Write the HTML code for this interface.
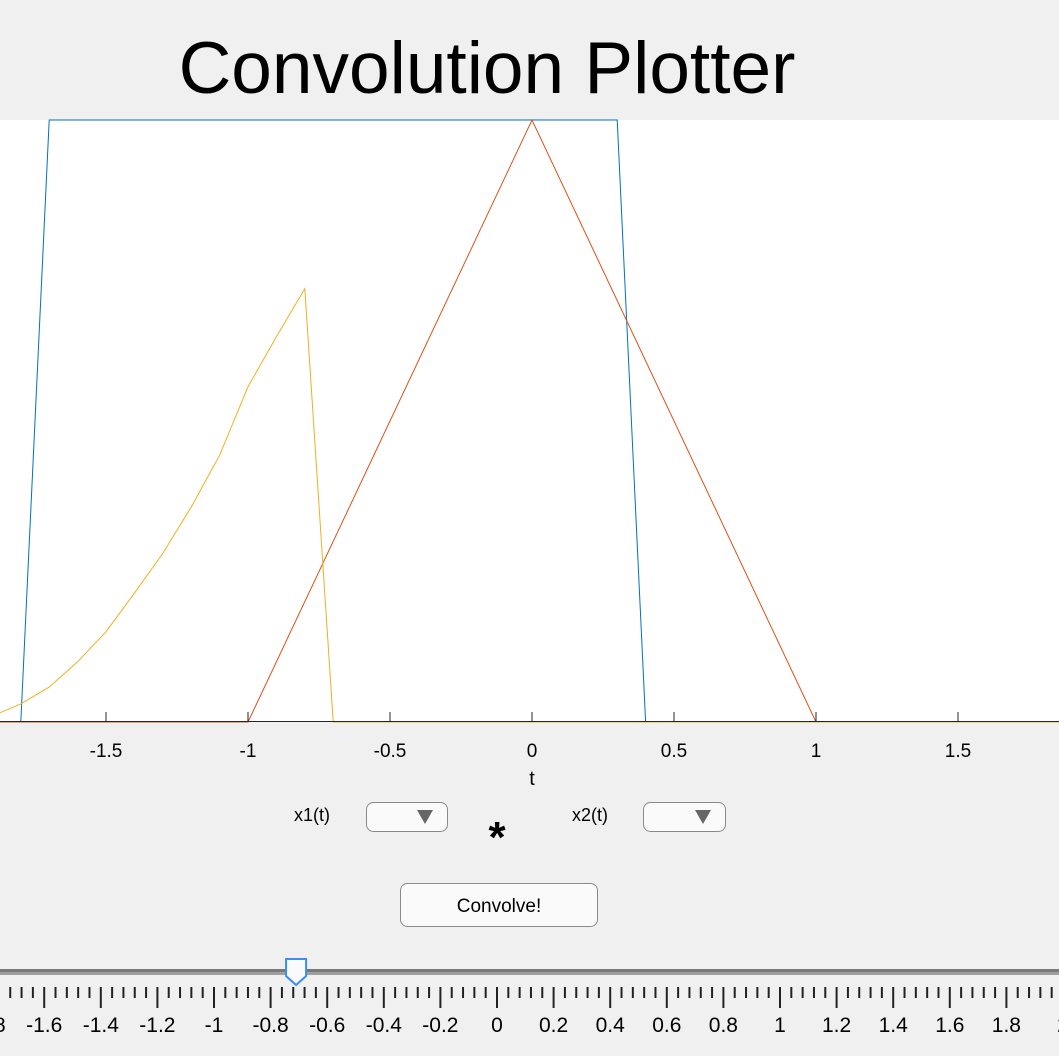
<!DOCTYPE html>
<html><head><meta charset="utf-8"><style>
body{margin:0;width:1059px;height:1056px;background:#f0f0f0;overflow:hidden;font-family:"Liberation Sans",sans-serif}
svg{position:absolute;left:0;top:0}
</style></head><body>
<svg id="s" width="1059" height="1056">
<rect x="0" y="120" width="1059" height="602" fill="#fff"/>
<text x="487" y="93" font-size="73" text-anchor="middle" fill="#000">Convolution Plotter</text>
<g id="plot"></g>
<g id="xticks"></g>
<text x="532" y="785" font-size="20" text-anchor="middle">t</text>
<text x="312" y="821" font-size="18" text-anchor="middle">x1(t)</text>
<g><rect x="366.5" y="802.5" width="81" height="29" rx="7" fill="#fafafa" stroke="#8a8a8a"/><path d="M417 810 L433 810 L425 824 Z" fill="#666"/></g>
<text x="497" y="852" font-size="44" font-weight="bold" text-anchor="middle">*</text>
<text x="590" y="821" font-size="18" text-anchor="middle">x2(t)</text>
<g><rect x="643.5" y="802.5" width="82" height="29" rx="7" fill="#fafafa" stroke="#8a8a8a"/><path d="M695 810 L711 810 L703 824 Z" fill="#666"/></g>
<g><rect x="400.5" y="883.5" width="197" height="43" rx="7" fill="#fafafa" stroke="#8a8a8a"/><text x="499" y="912" font-size="19" text-anchor="middle">Convolve!</text></g>
<g>
<rect x="0" y="969" width="1059" height="3" fill="#7a7a7a"/><rect x="0" y="972" width="1059" height="3" fill="#a0a0a0"/>
<g id="sticks"></g>
<path id="thumb" d="" fill="#fafafa" stroke="#3d8ef0" stroke-width="2"/>
</g>
</svg>
<script>
const tBlue=[-1.9,-1.8,-1.7,0.3,0.4,1.9];
const vBlue=[0,0,1,1,0,0];
const tRed=[-1.9,-1,0,1,1.9];
const vRed=[0,0,1,0,0];
const tYellow=[-1.9,-1.8,-1.7,-1.6,-1.5,-1.4,-1.3,-1.2,-1.1,-1,-0.9,-0.8,-0.7,1.9];
const vYellow=[0.01,0.03,0.058,0.1,0.15,0.214,0.28,0.357,0.443,0.557,0.64,0.72,0,0];
const xTicks=[-1.5,-1,-0.5,0,0.5,1,1.5];
const xTickLabels=["-1.5","-1","-0.5","0","0.5","1","1.5"];
const sliderLabels=["-2","-1.8","-1.6","-1.4","-1.2","-1","-0.8","-0.6","-0.4","-0.2","0","0.2","0.4","0.6","0.8","1","1.2","1.4","1.6","1.8","2"];
const sliderValue=-0.71;
const NS="http://www.w3.org/2000/svg";
const X=t=>532+284*t, Y=v=>722-602*v;
const SX=t=>497+283*t;
function mk(tag,a,p){const e=document.createElementNS(NS,tag);for(const k in a)e.setAttribute(k,a[k]);p.appendChild(e);return e;}
const plot=document.getElementById('plot');
function line(ts,vs,c,name){const d=ts.map((t,i)=>(i?'L':'M')+X(t).toFixed(1)+' '+Y(vs[i]).toFixed(1)).join(' ');
const e=mk('path',{d:d,fill:'none',stroke:c,'stroke-width':1},plot);

}
const xa=document.getElementById('xticks');
mk('line',{x1:0,y1:721.5,x2:1059,y2:721.5,stroke:'#262626'},xa);
xTicks.forEach((t,i)=>{mk('line',{x1:X(t),y1:712,x2:X(t),y2:722,stroke:'#262626'},xa);
const tx=mk('text',{x:X(t),y:757,'font-size':19,'text-anchor':'middle'},xa);tx.textContent=xTickLabels[i];

});
line(tBlue,vBlue,'#0072bd','series-x1-shifted');
line(tRed,vRed,'#d95319','series-x2');
line(tYellow,vYellow,'#edb120','series-convolution');
const st=document.getElementById('sticks');
for(let i=0;i<=100;i++){const t=-2+i*0.04;const major=i%5==0;
mk('line',{x1:SX(t),y1:987,x2:SX(t),y2:major?1008:998,stroke:'#222','stroke-width':2},st);}
sliderLabels.forEach(l=>{const t=parseFloat(l);const tx=mk('text',{x:SX(t),y:1032,'font-size':21,'text-anchor':'middle'},st);tx.textContent=l;

});
const tx0=SX(sliderValue);
document.getElementById('thumb').setAttribute('d',`M${tx0-10} 959 L${tx0+10} 959 L${tx0+10} 976 L${tx0} 985 L${tx0-10} 976 Z`);
</script>
</body></html>
